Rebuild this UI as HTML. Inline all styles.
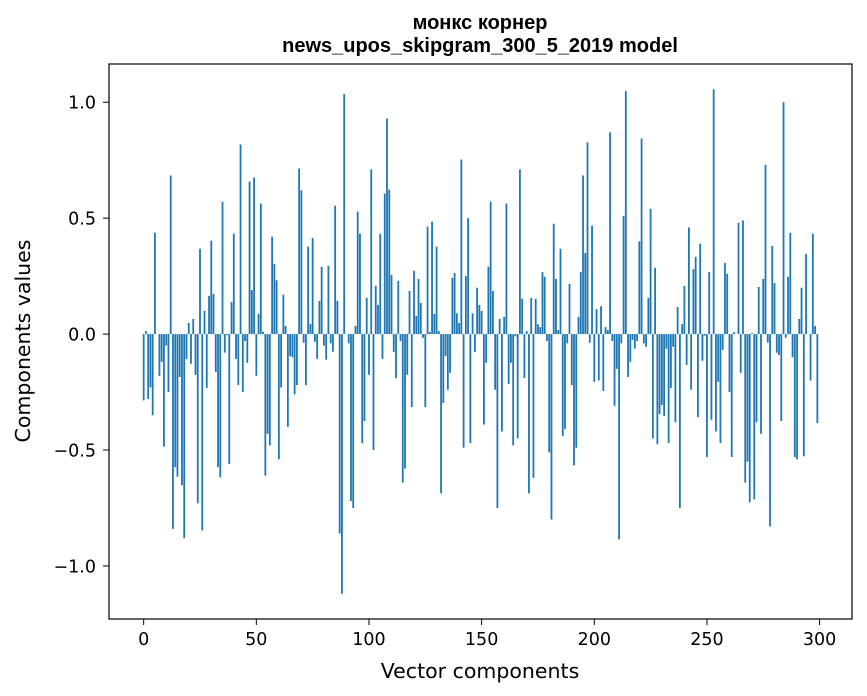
<!DOCTYPE html>
<html><head><meta charset="utf-8"><style>
body{margin:0;background:#fff;}
svg{display:block;font-family:"DejaVu Sans","Liberation Sans",sans-serif;}
</style></head><body>
<svg id="chart" width="867" height="696" viewBox="0 0 867 696" xmlns="http://www.w3.org/2000/svg">
<rect width="867" height="696" fill="#fff"/>
<text x="480" y="29" text-anchor="middle" font-size="20" font-weight="bold" font-family="Liberation Sans, sans-serif">монкс корнер</text>
<text x="480" y="52" text-anchor="middle" font-size="20" font-weight="bold" font-family="Liberation Sans, sans-serif">news_upos_skipgram_300_5_2019 model</text>
<g id="bars"></g>
<g id="xticks"></g>
<g id="yticks"></g>
<rect x="109" y="64" width="743" height="555" fill="none" stroke="#000" stroke-width="1.2"/>
<text x="480" y="678" text-anchor="middle" font-size="20.5">Vector components</text>
<text transform="translate(30,341) rotate(-90)" text-anchor="middle" font-size="20.5">Components values</text>
</svg>
<script>
const values = [
-0.286,0.013,-0.28,-0.23,-0.35,0.437,0,-0.18,-0.12,-0.485,
-0.05,-0.25,0.684,-0.84,-0.574,-0.615,-0.185,-0.652,-0.88,-0.107,
0.048,-0.128,0.065,-0.176,-0.73,0.368,-0.847,0.1,-0.232,0.165,
0.403,0.173,-0.163,-0.574,-0.618,0.571,-0.08,-0.005,-0.56,0.138,
0.433,-0.107,-0.22,0.818,-0.25,-0.03,-0.124,0.658,0.19,0.675,
-0.18,0.087,0.563,0.01,-0.61,-0.43,-0.48,0.42,0.303,0.232,
-0.54,-0.23,0.17,0.035,-0.4,-0.095,-0.1,-0.26,-0.22,0.714,
0.62,-0.037,-0.22,0.377,0.043,0.415,-0.033,-0.107,0.143,0.29,
-0.05,-0.11,0.294,-0.04,-0.076,0.554,0.143,-0.86,-1.12,1.035,
0,-0.04,-0.72,-0.75,0.035,0.528,0.433,-0.47,-0.375,0.156,
-0.176,0.71,-0.5,0.208,0.126,0.433,-0.107,0.606,0.93,0.623,
0.255,-0.077,-0.19,0.23,-0.03,-0.64,-0.58,-0.176,0.186,-0.315,
0.273,0.078,0.238,0.134,-0.016,-0.315,0.463,0.009,0.485,0.087,
0.377,0.013,-0.687,-0.297,-0.094,-0.24,-0.167,0.242,0.264,0.09,
0.048,0.753,-0.49,0.25,0.5,-0.47,0.09,-0.077,0.2,0.126,
0.1,-0.39,-0.124,0.29,0.571,0.186,-0.24,-0.75,0.065,-0.42,
0.074,0.563,-0.215,-0.124,-0.48,-0.01,-0.45,0.71,0.152,-0.19,
0.013,-0.687,0.156,-0.62,0.152,0.043,0.03,0.268,0.247,-0.03,
-0.51,-0.8,0.476,0.238,0.017,0.368,-0.44,-0.41,-0.04,0.216,
-0.22,-0.566,-0.49,0.074,0.268,0.684,0.35,0.827,-0.037,0.467,
-0.206,0.108,-0.2,0.12,-0.245,0.03,0.017,0.87,-0.03,-0.31,
-0.15,-0.885,-0.04,0.51,1.048,-0.185,-0.12,-0.025,-0.063,-0.03,
0.4,0.844,-0.04,-0.055,0.156,0.54,-0.45,0.286,-0.475,-0.345,
-0.306,-0.354,-0.063,-0.47,-0.232,-0.055,-0.38,0.117,-0.75,0.043,
0.208,-0.133,0.46,-0.24,0.28,0.333,-0.358,0.39,-0.115,-0.007,
-0.53,0.268,-0.37,1.056,-0.42,-0.206,-0.47,-0.068,0.307,0.26,
-0.25,-0.53,0.009,0,0.48,-0.167,0.49,-0.64,-0.55,-0.726,
0.004,-0.713,-0.38,0.203,-0.43,0.238,0.73,-0.037,-0.83,0.38,
0.22,-0.08,-0.09,-0.375,1.0,-0.016,0.247,0.437,-0.1,-0.53,
-0.54,0.065,0.2,-0.527,0.346,0,-0.2,0.433,0.035,-0.384
];
const xTickValues = [0,50,100,150,200,250,300];
const yTickValues = [-1.0,-0.5,0.0,0.5,1.0];
const yTickLabels = ["\u22121.0","\u22120.5","0.0","0.5","1.0"];

const NS="http://www.w3.org/2000/svg";
const L=109,R=852,T=64,B=619;
const n=values.length;
const xmin0=-0.4,xmax0=(n-1)+0.4, xm=(xmax0-xmin0)*0.05;
const xlo=xmin0-xm, xhi=xmax0+xm;
let vmin=Math.min(0,...values), vmax=Math.max(0,...values), ym=(vmax-vmin)*0.05;
const ylo=vmin-ym, yhi=vmax+ym;
function xs(v){return L+(v-xlo)/(xhi-xlo)*(R-L);}
function ys(v){return B-(v-ylo)/(yhi-ylo)*(B-T);}
const bars=document.getElementById('bars');
values.forEach((v,i)=>{
  const r=document.createElementNS(NS,'rect');
  const x0=xs(i-0.4),x1=xs(i+0.4);
  const y0=ys(Math.max(v,0)),y1=ys(Math.min(v,0));
  r.setAttribute('x',x0);r.setAttribute('width',x1-x0);
  r.setAttribute('y',y0);r.setAttribute('height',Math.max(y1-y0,0));
  r.setAttribute('fill','#1f77b4');
  
  
  bars.appendChild(r);
});
const xg=document.getElementById('xticks');
xTickValues.forEach(t=>{
  const x=xs(t);
  const l=document.createElementNS(NS,'line');
  l.setAttribute('x1',x);l.setAttribute('x2',x);l.setAttribute('y1',B);l.setAttribute('y2',B+6);
  l.setAttribute('stroke','#000');
  
  
  xg.appendChild(l);
  const tx=document.createElementNS(NS,'text');
  tx.setAttribute('x',x);tx.setAttribute('y',B+26);tx.setAttribute('text-anchor','middle');tx.setAttribute('font-size','17.5');
  tx.textContent=t;
  
  
  xg.appendChild(tx);
});
const yg=document.getElementById('yticks');
yTickValues.forEach((t,k)=>{
  const y=ys(t);
  const l=document.createElementNS(NS,'line');
  l.setAttribute('x1',L-6);l.setAttribute('x2',L);l.setAttribute('y1',y);l.setAttribute('y2',y);
  l.setAttribute('stroke','#000');
  
  
  yg.appendChild(l);
  const tx=document.createElementNS(NS,'text');
  tx.setAttribute('x',L-13);tx.setAttribute('y',y+6.5);tx.setAttribute('text-anchor','end');tx.setAttribute('font-size','17.5');
  tx.textContent=yTickLabels[k];
  
  
  yg.appendChild(tx);
});
</script>
</body></html>
